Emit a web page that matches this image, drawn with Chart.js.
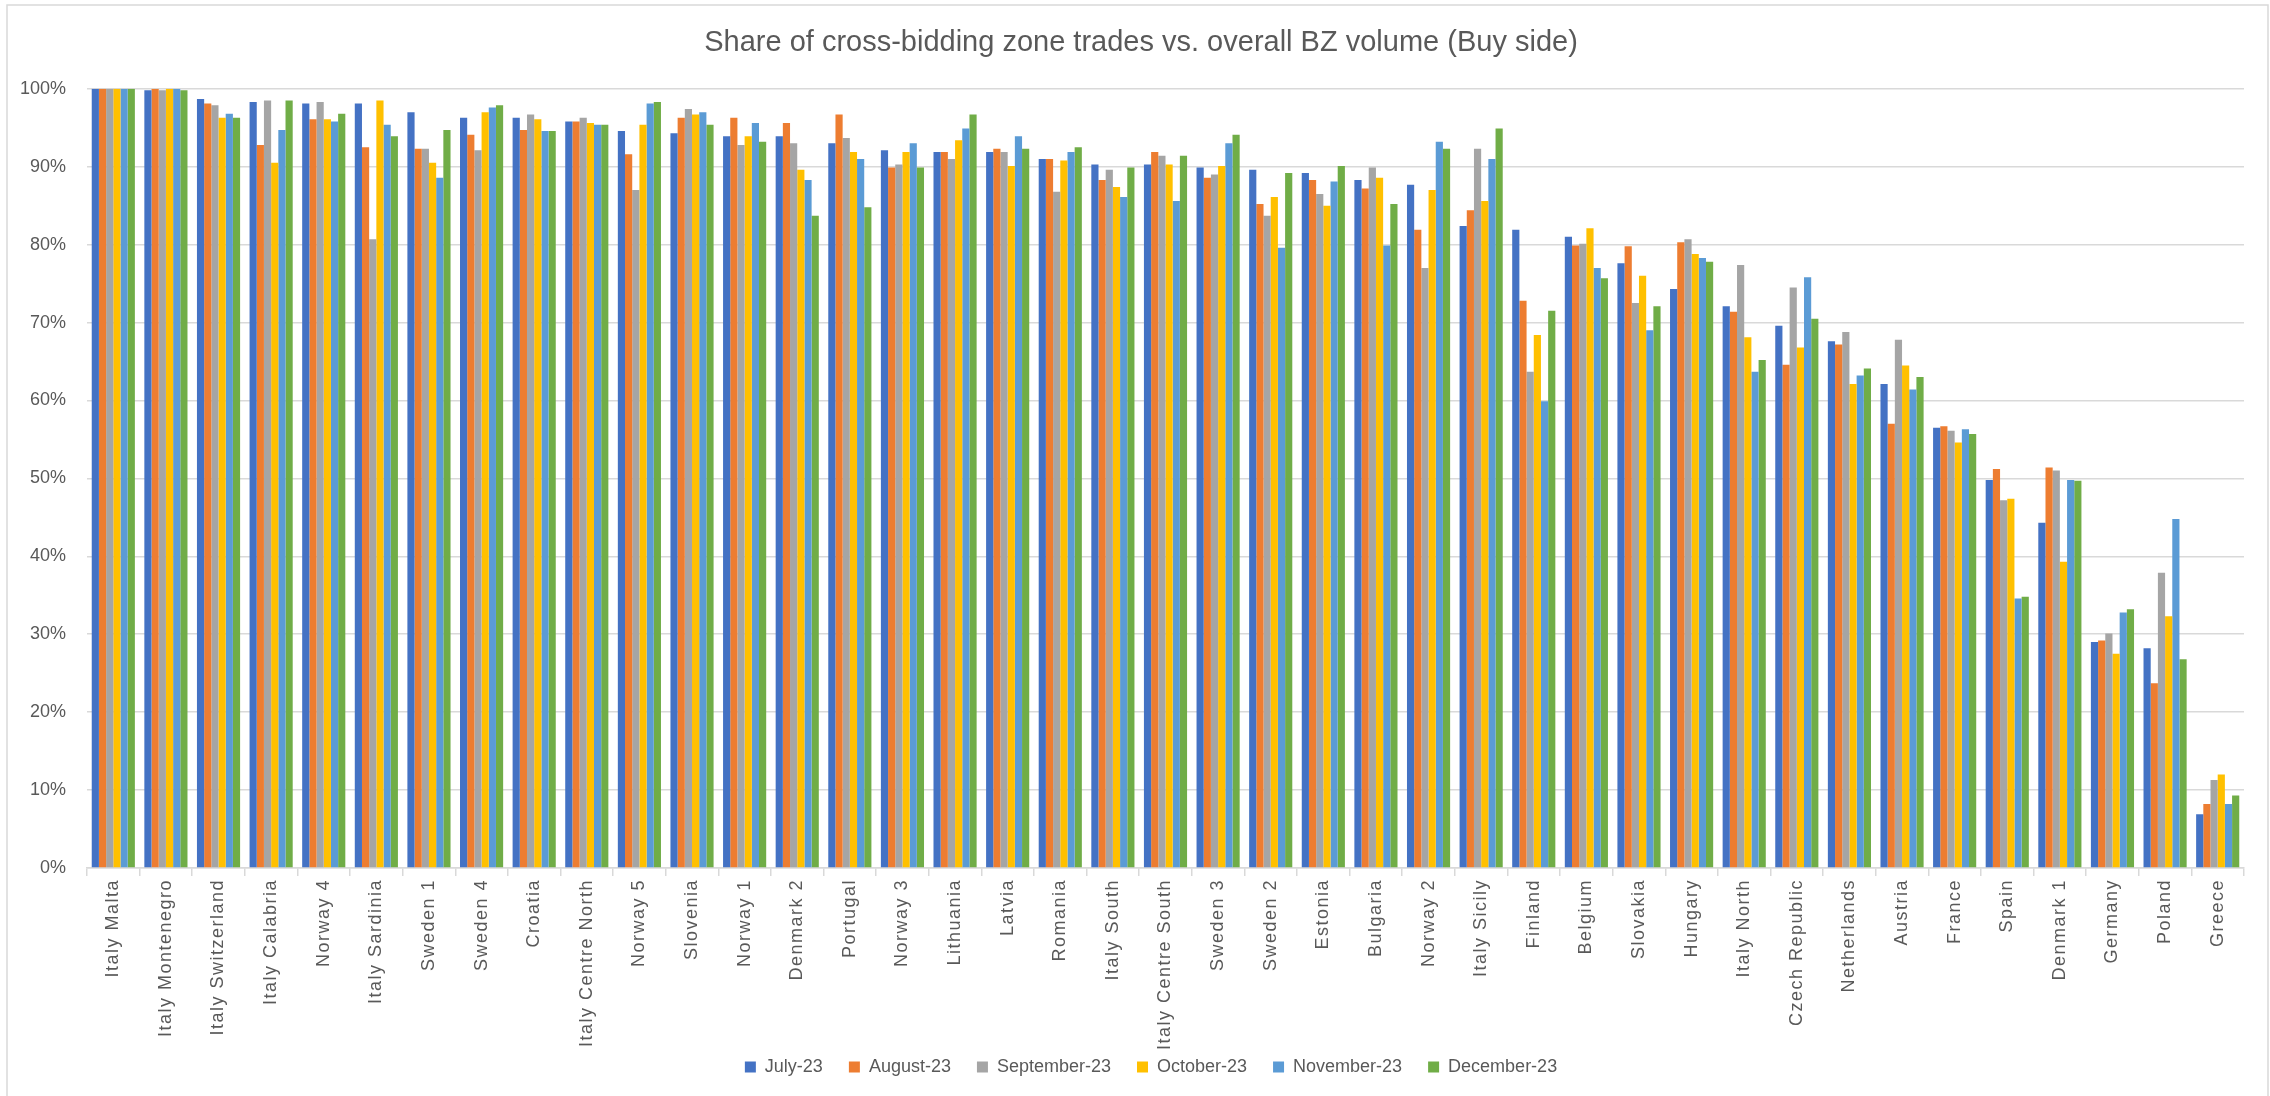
<!DOCTYPE html>
<html>
<head>
<meta charset="utf-8">
<script src="https://cdn.jsdelivr.net/npm/chart.js@4"></script>
<style>
  html, body { margin: 0; padding: 0; background: #ffffff; }
  canvas { display: block; }
</style>
</head>
<body>
<canvas id="c" width="2270" height="1096"></canvas>
<script>
const categories = [
  "Italy Malta","Italy Montenegro","Italy Switzerland","Italy Calabria","Norway 4","Italy Sardinia","Sweden 1","Sweden 4","Croatia","Italy Centre North",
  "Norway 5","Slovenia","Norway 1","Denmark 2","Portugal","Norway 3","Lithuania","Latvia","Romania","Italy South",
  "Italy Centre South","Sweden 3","Sweden 2","Estonia","Bulgaria","Norway 2","Italy Sicily","Finland","Belgium","Slovakia",
  "Hungary","Italy North","Czech Republic","Netherlands","Austria","France","Spain","Denmark 1","Germany","Poland",
  "Greece"
];

const july23 = [
  100, 99.8, 98.7, 98.3, 98.1, 98.1, 97.0, 96.3, 96.3, 95.8,
  94.6, 94.3, 93.9, 93.9, 93.0, 92.1, 91.9, 91.9, 91.0, 90.3,
  90.3, 89.9, 89.6, 89.2, 88.3, 87.7, 82.4, 81.9, 81.0, 77.6,
  74.3, 72.1, 69.6, 67.6, 62.1, 56.5, 49.8, 44.3, 29.0, 28.2,
  6.9
];
const august23 = [
  100, 100, 98.1, 92.8, 96.1, 92.5, 92.3, 94.1, 94.7, 95.8,
  91.6, 96.3, 96.3, 95.6, 96.7, 89.9, 91.9, 92.3, 91.0, 88.3,
  91.9, 88.6, 85.2, 88.3, 87.2, 81.9, 84.4, 72.8, 79.9, 79.8,
  80.3, 71.4, 64.6, 67.2, 57.0, 56.7, 51.2, 51.4, 29.2, 23.7,
  8.2
];
const september23 = [
  100, 99.8, 97.9, 98.5, 98.3, 80.7, 92.3, 92.1, 96.7, 96.3,
  87.0, 97.4, 92.8, 93.0, 93.7, 90.3, 91.0, 91.9, 86.8, 89.6,
  91.4, 89.0, 83.7, 86.5, 89.9, 77.0, 92.3, 63.7, 80.1, 72.5,
  80.7, 77.4, 74.5, 68.8, 67.8, 56.1, 47.2, 51.0, 30.1, 37.9,
  11.3
];
const october23 = [
  100, 100, 96.3, 90.5, 96.1, 98.5, 90.5, 97.0, 96.1, 95.6,
  95.4, 96.7, 93.9, 89.6, 91.9, 91.9, 93.4, 90.1, 90.8, 87.4,
  90.3, 90.1, 86.1, 85.0, 88.6, 87.0, 85.6, 68.4, 82.1, 76.0,
  78.8, 68.1, 66.8, 62.1, 64.5, 54.6, 47.4, 39.3, 27.5, 32.3,
  12.0
];
const november23 = [
  100, 100, 96.8, 94.7, 95.8, 95.4, 88.6, 97.6, 94.6, 95.4,
  98.1, 97.0, 95.6, 88.3, 91.0, 93.0, 94.9, 93.9, 91.9, 86.1,
  85.6, 93.0, 79.6, 88.1, 79.9, 93.2, 91.0, 59.9, 77.0, 69.0,
  78.3, 63.7, 75.8, 63.2, 61.4, 56.3, 34.6, 49.8, 32.8, 44.8,
  8.2
];
const december23 = [
  100, 99.8, 96.3, 98.5, 96.8, 93.9, 94.7, 97.9, 94.6, 95.4,
  98.3, 95.4, 93.2, 83.7, 84.8, 89.9, 96.7, 92.3, 92.5, 89.9,
  91.4, 94.1, 89.2, 90.1, 85.2, 92.3, 94.9, 71.5, 75.7, 72.1,
  77.8, 65.2, 70.5, 64.1, 63.0, 55.7, 34.8, 49.7, 33.2, 26.8,
  9.3
];

const seriesNames = ["July-23","August-23","September-23","October-23","November-23","December-23"];
const seriesValues = [july23, august23, september23, october23, november23, december23];
const seriesColors = ["#4472C4","#ED7D31","#A5A5A5","#FFC000","#5B9BD5","#70AD47"];

const yTickValues = [0,10,20,30,40,50,60,70,80,90,100];
const titleText = "Share of cross-bidding zone trades vs. overall BZ volume (Buy side)";

const textColor = "#595959";
const gridColor = "#d9d9d9";
const fontFamily = "'Liberation Sans', Arial, sans-serif";

const xLabelSpacing = {
  id: 'xLabelSpacing',
  afterDatasetsDraw(chart) { chart.ctx.letterSpacing = '1.5px'; },
  afterDraw(chart) { chart.ctx.letterSpacing = '0px'; }
};

const boxShift = {
  id: 'boxShift',
  afterLayout(chart) {
    const lg = chart.legend;
    if (lg) {
      const dy = 1032 - lg.top;
      lg.left += 24; lg.right += 24; lg.top += dy; lg.bottom += dy;
    }
    const t = chart.titleBlock;
    if (t) { t.left += 14; t.right += 14; }
  }
};

const frame = {
  id: 'frame',
  afterDraw(chart) {
    const ctx = chart.ctx;
    ctx.save();
    ctx.strokeStyle = gridColor;
    ctx.lineWidth = 1.5;
    ctx.strokeRect(7, 5, 2261, 1095);
    ctx.restore();
  }
};

new Chart(document.getElementById('c'), {
  type: 'bar',
  data: {
    labels: categories,
    datasets: seriesNames.map((n, i) => ({
      label: n,
      data: seriesValues[i],
      backgroundColor: seriesColors[i],
      borderWidth: 0,
      categoryPercentage: 0.82,
      barPercentage: 1.0
    }))
  },
  options: {
    responsive: false,
    animation: false,
    layout: { padding: { left: 10, right: 26, top: 0, bottom: -11 } },
    plugins: {
      tooltip: { enabled: false },
      title: {
        display: true,
        text: titleText,
        color: textColor,
        font: { family: fontFamily, size: 29, weight: 'normal' },
        padding: { top: 26, bottom: 28 }
      },
      legend: {
        position: 'bottom',
        labels: {
          color: textColor,
          font: { family: fontFamily, size: 18 },
          boxWidth: 11,
          boxHeight: 11,
          padding: 26
        }
      }
    },
    scales: {
      x: {
        afterFit(scale) { scale.height = 185; },
        grid: {
          display: true,
          drawOnChartArea: false,
          drawTicks: true,
          tickLength: 8,
          color: gridColor,
          lineWidth: 1.5,
          offset: true
        },
        border: { display: true, color: gridColor, width: 1.5 },
        ticks: {
          z: 1,
          color: textColor,
          font: { family: fontFamily, size: 18 },
          maxRotation: 90,
          minRotation: 90,
          autoSkip: false,
          padding: 3
        }
      },
      y: {
        min: 0,
        max: 100,
        afterFit(scale) { scale.width = 77; },
        afterBuildTicks(scale) { scale.ticks = yTickValues.map(v => ({ value: v })); },
        grid: {
          color: gridColor,
          lineWidth: 1.5,
          drawTicks: false
        },
        border: { display: false },
        ticks: {
          color: textColor,
          font: { family: fontFamily, size: 18 },
          padding: 21,
          callback: (v) => v + '%'
        }
      }
    }
  },
  plugins: [xLabelSpacing, boxShift, frame]
});
</script>
</body>
</html>
